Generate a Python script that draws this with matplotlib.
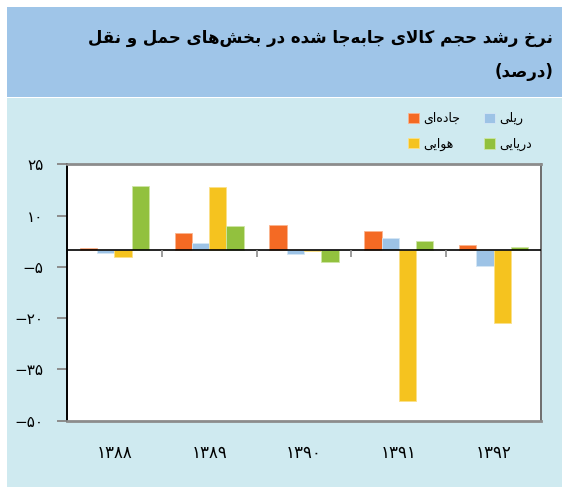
import numpy as np
import matplotlib
matplotlib.use('Agg')
import matplotlib.pyplot as plt
from matplotlib.patches import Rectangle

# data (percent growth)
years = [1388, 1389, 1390, 1391, 1392]
road = [0.6, 4.9, 7.1, 5.4, 1.5]
rail = [-0.8, 1.9, -1.2, 3.5, -4.8]
air = [-2.0, 18.3, -0.5, -44.1, -21.5]
sea = [18.7, 6.9, -3.6, 2.6, 0.7]
yticks = [25, 10, -5, -20, -35, -50]

title_1 = 'نرخ رشد حجم کالای جابه\u200cجا شده در بخش\u200cهای حمل و نقل'
title_2 = '(درصد)'
labels = ['جاده\u200cای', 'ریلی', 'هوایی', 'دریایی']
colors = ['#f46a24', '#9dc3e6', '#f5c31f', '#92c13e']
edges = ['#fbb48f', '#d5e6f5', '#fbe08a', '#cfe6a6']

# --- tiny arabic shaper (matplotlib has no text shaping) ---
# (isolated, final, initial, medial)
FORMS = {
    '\u0627': ('\uFE8D', '\uFE8E', None, None),
    '\u0628': ('\uFE8F', '\uFE90', '\uFE91', '\uFE92'),
    '\u062C': ('\uFE9D', '\uFE9E', '\uFE9F', '\uFEA0'),
    '\u062D': ('\uFEA1', '\uFEA2', '\uFEA3', '\uFEA4'),
    '\u062E': ('\uFEA5', '\uFEA6', '\uFEA7', '\uFEA8'),
    '\u062F': ('\uFEA9', '\uFEAA', None, None),
    '\u0631': ('\uFEAD', '\uFEAE', None, None),
    '\u0634': ('\uFEB5', '\uFEB6', '\uFEB7', '\uFEB8'),
    '\u0635': ('\uFEB9', '\uFEBA', '\uFEBB', '\uFEBC'),
    '\u0642': ('\uFED5', '\uFED6', '\uFED7', '\uFED8'),
    '\u0644': ('\uFEDD', '\uFEDE', '\uFEDF', '\uFEE0'),
    '\u0645': ('\uFEE1', '\uFEE2', '\uFEE3', '\uFEE4'),
    '\u0646': ('\uFEE5', '\uFEE6', '\uFEE7', '\uFEE8'),
    '\u0647': ('\uFEE9', '\uFEEA', '\uFEEB', '\uFEEC'),
    '\u0648': ('\uFEED', '\uFEEE', None, None),
    '\u06CC': ('\uFBFC', '\uFBFD', '\uFBFE', '\uFBFF'),
    '\u06A9': ('\uFB8E', '\uFB8F', '\uFB90', '\uFB91'),
}
MIRROR = {'(': ')', ')': '('}


def joins_left(c):
    return c in FORMS and FORMS[c][2] is not None


def shape(text):
    out = []
    i = 0
    n = len(text)
    while i < n:
        c = text[i]
        prev = text[i - 1] if i > 0 else ''
        nxt = text[i + 1] if i + 1 < n else ''
        if c not in FORMS:
            if c != '\u200c':
                out.append(MIRROR.get(c, c))
            i += 1
            continue
        p = joins_left(prev)
        if c == '\u0644' and nxt == '\u0627':
            out.append('\uFEFC' if p else '\uFEFB')
            i += 2
            continue
        q = joins_left(c) and nxt in FORMS
        f = FORMS[c]
        if p and q:
            out.append(f[3])
        elif p:
            out.append(f[1])
        elif q:
            out.append(f[2])
        else:
            out.append(f[0])
        i += 1
    return ''.join(out[::-1])


def fa_num(v):
    s = str(abs(v)).translate(str.maketrans('0123456789', '۰۱۲۳۴۵۶۷۸۹'))
    return ('\u2212' + s) if v < 0 else s


W, H = 562, 487
fig = plt.figure(figsize=(W / 100, H / 100), dpi=100)
fig.patch.set_facecolor('white')

# background bands
fig.add_artist(Rectangle((7 / W, 1 - 97 / H), 1, 90 / H, transform=fig.transFigure,
                         facecolor='#9fc5e8', edgecolor='none', zorder=0))
fig.add_artist(Rectangle((7 / W, 0), 1, 1 - 98 / H, transform=fig.transFigure,
                         facecolor='#cfeaf0', edgecolor='none', zorder=0))

fig.text(553 / W, 1 - 38 / H, shape(title_1), ha='right', va='center',
         fontsize=12, fontweight='bold', family='DejaVu Sans')
fig.text(553 / W, 1 - 72 / H, shape(title_2), ha='right', va='center',
         fontsize=12, fontweight='bold', family='DejaVu Sans')

ax = fig.add_axes([67 / W, 1 - 420.7 / H, (541 - 67) / W, (420.7 - 164.3) / H])
ax.set_facecolor('white')

x = np.arange(len(years))
w = 0.182
series = [road, rail, air, sea]
bars = []
for k, vals in enumerate(series):
    b = ax.bar(x + (k - 1.5) * w, vals, w, color=colors[k], edgecolor=edges[k],
               linewidth=0.6, label=shape(labels[k]), zorder=2)
    bars.append(b)

ax.axhline(0, color='black', lw=1.2, zorder=3)
ax.vlines(np.arange(0.5, len(years) - 0.5, 1), -2.2, 0, color='#8c8c8c', lw=1.2, zorder=3)

ax.set_xlim(-0.5, len(years) - 0.5)
ax.set_ylim(-50, 25)
ax.set_yticks(yticks)
ax.set_yticklabels([fa_num(v) for v in yticks], fontsize=11)
ax.set_xticks(x)
ax.set_xticklabels([fa_num(v) for v in years], fontsize=12)
ax.tick_params(axis='y', length=7, width=1.4, color='#8c8c8c', pad=10)
ax.tick_params(axis='x', length=0, pad=17)

ax.spines['left'].set_color('black')
ax.spines['left'].set_linewidth(1.4)
ax.spines['right'].set_color('#6e6e6e')
ax.spines['right'].set_linewidth(1.4)
for s in ['top', 'bottom']:
    ax.spines[s].set_color('#8c8c8c')
    ax.spines[s].set_linewidth(2)

order = [0, 2, 1, 3]
ax.legend([bars[i] for i in order], [shape(labels[i]) for i in order], ncol=2,
          loc='upper left', bbox_to_anchor=(408 / W, 1 - 112 / H),
          bbox_transform=fig.transFigure, frameon=False, fontsize=9,
          borderpad=0, handlelength=0.9, handleheight=0.9, handletextpad=0.3,
          columnspacing=1.9, labelspacing=1.0, borderaxespad=0)

fig.savefig('out.png', dpi=100)
